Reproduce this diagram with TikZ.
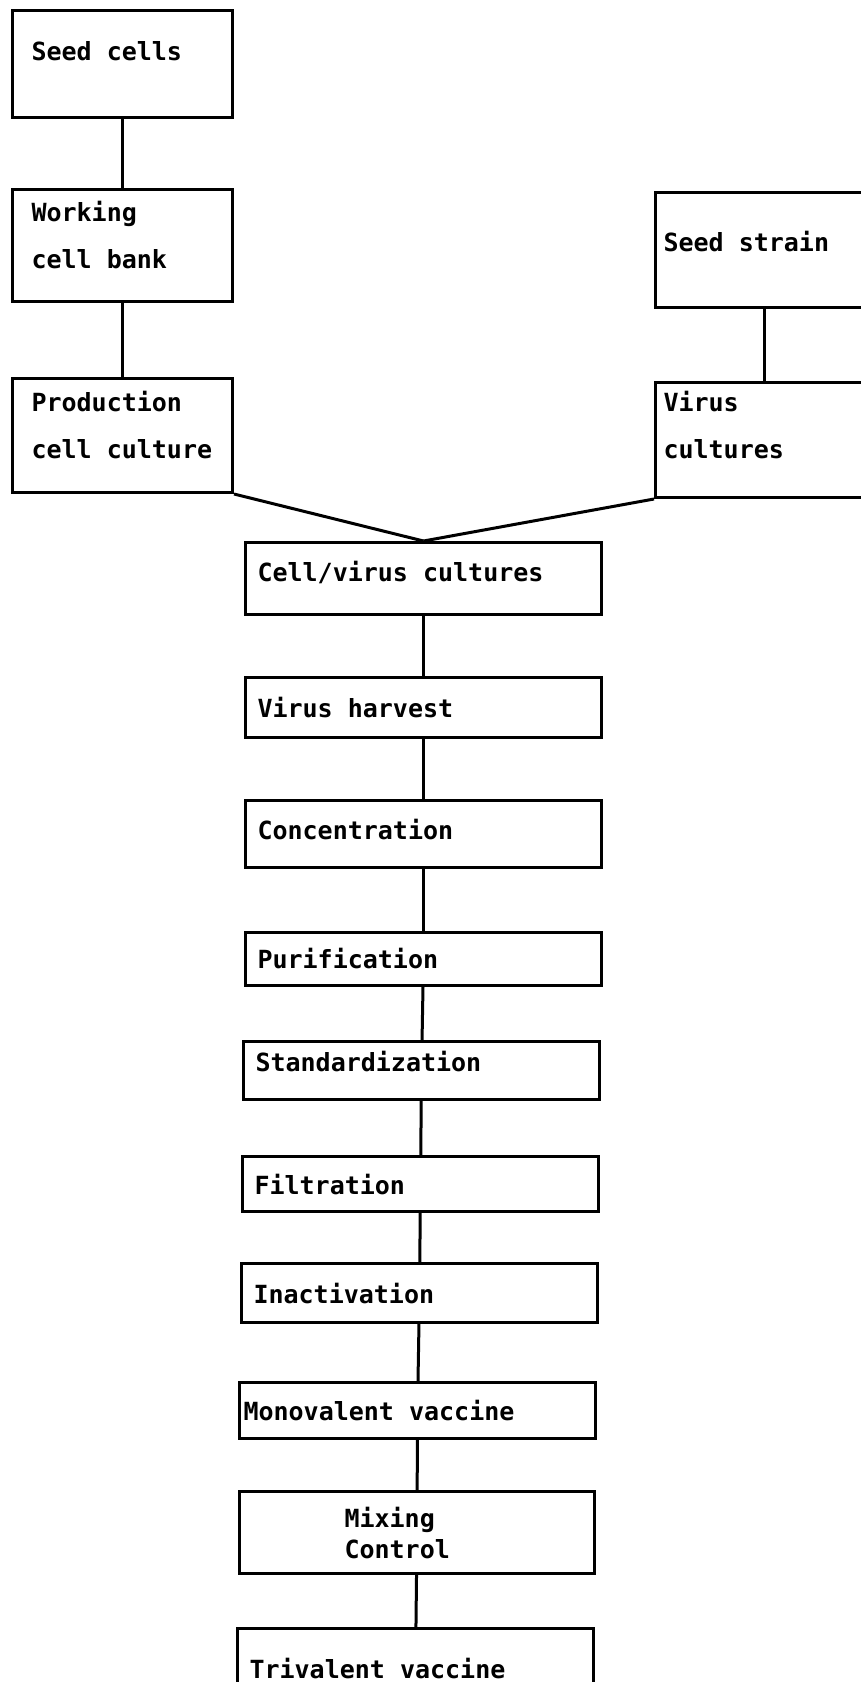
\documentclass[tikz,border=0pt]{standalone}
\usepackage{fontspec}
\setmonofont{DejaVu Sans Mono}
\newcommand\boxfont[1]{\ttfamily\bfseries\fontsize{25}{#1}\selectfont}
\newcommand\lowpad[1]{\rule[-#1]{0pt}{0pt}}
\begin{document}
\begin{tikzpicture}[x=1pt,y=-1pt,
  box/.style={draw, line width=3pt, anchor=north west, align=flush left,
    font=\boxfont{47pt}},
  leftbox/.style={box, inner xsep=19pt, text width=182pt},
  rightbox/.style={box, inner xsep=8pt, text width=202pt},
  stage/.style={box, inner xsep=12pt, text width=332pt},
  link/.style={line width=3pt}]
\useasboundingbox (0,0) rectangle (860,1682);
% left column
\node[leftbox, minimum height=107pt] (seed) at (11,9) {Seed cells\lowpad{26pt}};
\node[leftbox, minimum height=112pt] (wcb) at (11,188) {Working\\cell bank\lowpad{22pt}};
\node[leftbox, minimum height=114pt] (prod) at (11,377) {Production\\cell culture\lowpad{22pt}};
% right column
\node[rightbox, minimum height=115pt] (strain) at (654,191) {Seed strain\lowpad{18pt}};
\node[rightbox, minimum height=115pt] (vcult) at (654,381) {Virus\\cultures\lowpad{30pt}};
% centre column
\node[stage, minimum height=72pt] (cv) at (244,541) {Cell/virus cultures\lowpad{15pt}};
\node[stage, minimum height=60pt] (harvest) at (244,676) {Virus harvest};
\node[stage, minimum height=67pt] (conc) at (244,799) {Concentration\lowpad{10pt}};
\node[stage, minimum height=53pt] (purif) at (244,931) {Purification};
\node[stage, minimum height=58pt] (std) at (242,1040) {Standardization\lowpad{18pt}};
\node[stage, minimum height=55pt] (filt) at (241,1155) {Filtration};
\node[stage, minimum height=59pt] (inact) at (240,1262) {Inactivation};
\node[stage, minimum height=56pt, inner xsep=4pt, text width=348pt] (mono) at (238,1381) {Monovalent vaccine};
\node[stage, minimum height=82pt, text width=145pt, inner xsep=105pt,
  font=\boxfont{31pt}] (mix) at (238,1490) {Mixing\\Control};
\node[stage, minimum height=80pt] (tri) at (236,1627) {Trivalent vaccine};

\draw[link] (seed) -- (wcb);
\draw[link] (wcb) -- (prod);
\draw[link] (strain) -- (vcult);
\draw[link] (prod.south east) -- (cv.north);
\draw[link] (vcult.south west) -- (cv.north);
\draw[link] (cv) -- (harvest);
\draw[link] (harvest) -- (conc);
\draw[link] (conc) -- (purif);
\draw[link] (purif) -- (std);
\draw[link] (std) -- (filt);
\draw[link] (filt) -- (inact);
\draw[link] (inact) -- (mono);
\draw[link] (mono) -- (mix);
\draw[link] (mix) -- (tri);
\end{tikzpicture}
\end{document}
